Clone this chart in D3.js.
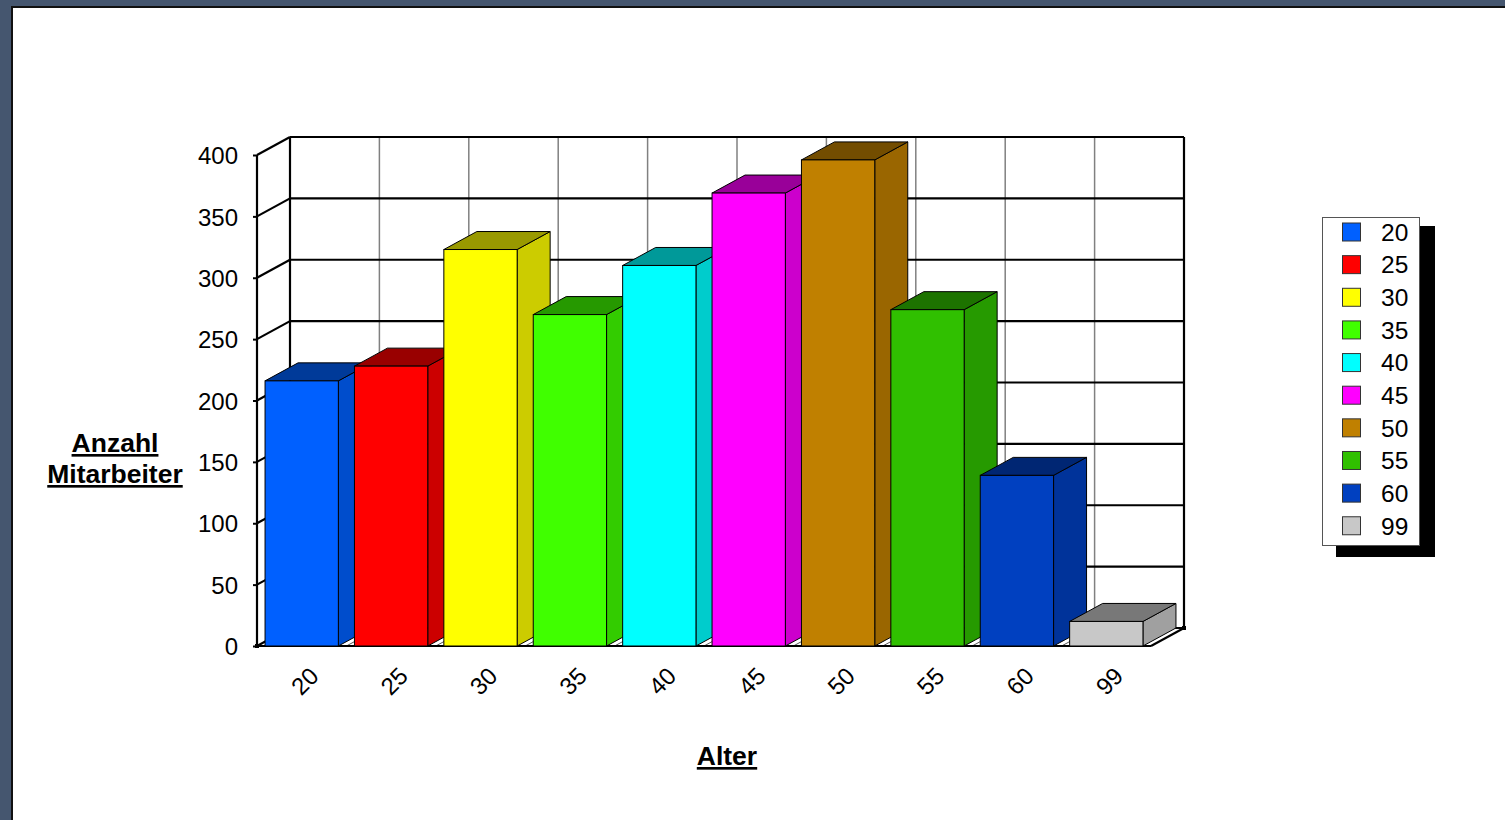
<!DOCTYPE html>
<html>
<head>
<meta charset="utf-8">
<script src="https://cdn.jsdelivr.net/npm/d3@7"></script>
<style>
  html, body { margin: 0; padding: 0; background: #fff; }
  svg { display: block; font-family: "Liberation Sans", Arial, sans-serif; }
</style>
</head>
<body>
<svg id="chart" width="1505" height="820"></svg>
<script>
// ---- data ----
const categories = ["20", "25", "30", "35", "40", "45", "50", "55", "60", "99"];
const values = [216, 228, 323, 270, 310, 369, 396, 274, 139, 20];
const colors = ["#0060FF", "#FF0000", "#FFFF00", "#40FF00", "#00FFFF", "#FF00FF", "#C08000", "#30C000", "#0040C0", "#C8C8C8"];
const yTicks = [0, 50, 100, 150, 200, 250, 300, 350, 400];
const yTitle = ["Anzahl", "Mitarbeiter"];
const xTitle = "Alter";

// ---- layout ----
const W = 1505, H = 820;
const DX = 33, DY = -18; // depth offset
const svg = d3.select("#chart");

// frame
svg.append("rect").attr("x", 0).attr("y", 0).attr("width", W).attr("height", H).attr("fill", "#45566f");
svg.append("rect").attr("x", 11).attr("y", 6).attr("width", W - 11).attr("height", H - 6).attr("fill", "#111");
svg.append("rect").attr("x", 13).attr("y", 8).attr("width", W - 13).attr("height", H - 8).attr("fill", "#fff");

const x = d3.scaleBand().domain(categories).range([257, 1151]).paddingInner(0.18).paddingOuter(0.09);
const y = d3.scaleLinear().domain([0, 400]).range([646, 155]);
const step = x.step();
const x0 = 257, x1 = 1151;

const g = svg.append("g");

// back wall vertical grid lines
for (let i = 1; i < categories.length; i++) {
  const bx = x0 + step * i + DX;
  g.append("line").attr("x1", bx).attr("x2", bx).attr("y1", y(400) + DY).attr("y2", y(0) + DY)
    .attr("stroke", "#808080").attr("stroke-width", 1.5);
}
// floor diagonal lines
for (let i = 1; i < categories.length; i++) {
  const fx = x0 + step * i;
  g.append("line").attr("x1", fx).attr("y1", y(0)).attr("x2", fx + DX).attr("y2", y(0) + DY)
    .attr("stroke", "#555").attr("stroke-width", 1);
}
// back wall horizontal grid + left wall diagonals
yTicks.forEach(t => {
  g.append("line").attr("x1", x0 + DX).attr("x2", x1 + DX).attr("y1", y(t) + DY).attr("y2", y(t) + DY)
    .attr("stroke", "#000").attr("stroke-width", 2.2);
  g.append("line").attr("x1", x0).attr("y1", y(t)).attr("x2", x0 + DX).attr("y2", y(t) + DY)
    .attr("stroke", "#000").attr("stroke-width", 2.2);
});
// wall edges
g.append("line").attr("x1", x0 + DX).attr("x2", x0 + DX).attr("y1", y(400) + DY).attr("y2", y(0) + DY)
  .attr("stroke", "#000").attr("stroke-width", 2.2);
g.append("line").attr("x1", x1 + DX).attr("x2", x1 + DX).attr("y1", y(400) + DY).attr("y2", y(0) + DY)
  .attr("stroke", "#000").attr("stroke-width", 2.2);
g.append("line").attr("x1", x1).attr("y1", y(0)).attr("x2", x1 + DX).attr("y2", y(0) + DY)
  .attr("stroke", "#000").attr("stroke-width", 2.2);
g.append("line").attr("x1", x0).attr("x2", x0).attr("y1", y(400)).attr("y2", y(0))
  .attr("stroke", "#000").attr("stroke-width", 2.2);
g.append("line").attr("x1", x0).attr("x2", x1).attr("y1", y(0)).attr("y2", y(0))
  .attr("stroke", "#000").attr("stroke-width", 2.2);
g.append("rect").attr("x", x1 + DX - 2).attr("y", y(0) + DY - 2).attr("width", 4).attr("height", 4).attr("fill", "#000");
g.append("rect").attr("x", x0 - 2).attr("y", y(0) - 2).attr("width", 4).attr("height", 4).attr("fill", "#000");

// y axis labels
const yAxis = d3.axisLeft(y).tickValues(yTicks).tickSize(4).tickPadding(15).tickFormat(d3.format("d"));
const ya = svg.append("g").attr("transform", `translate(${x0},0)`).call(yAxis);
ya.select(".domain").remove();
ya.selectAll(".tick line").attr("stroke", "#000").attr("stroke-width", 2);
ya.selectAll(".tick text").attr("font-size", 24).attr("fill", "#000")
  .attr("font-family", "'Liberation Sans', Arial, sans-serif").attr("dy", "0.36em");

// bars
const shade = (c, k) => { const r = d3.rgb(c); return d3.rgb(r.r * k, r.g * k, r.b * k).formatHex(); };
const data = categories.map((c, i) => ({ c, v: values[i], col: colors[i] }));
const bw = x.bandwidth();
const bars = g.selectAll("g.bar").data(data).enter().append("g").attr("class", "bar");
bars.append("path") // side
  .attr("d", d => {
    const r = x(d.c) + bw, t = y(d.v), b = y(0);
    return `M${r},${b}L${r},${t}L${r + DX},${t + DY}L${r + DX},${b + DY}Z`;
  })
  .attr("fill", d => shade(d.col, 0.8)).attr("stroke", "#000").attr("stroke-width", 1).attr("stroke-linejoin", "round");
bars.append("path") // top
  .attr("d", d => {
    const l = x(d.c), r = l + bw, t = y(d.v);
    return `M${l},${t}L${l + DX},${t + DY}L${r + DX},${t + DY}L${r},${t}Z`;
  })
  .attr("fill", d => shade(d.col, 0.6)).attr("stroke", "#000").attr("stroke-width", 1).attr("stroke-linejoin", "round");
bars.append("rect") // front
  .attr("x", d => x(d.c)).attr("y", d => y(d.v)).attr("width", bw).attr("height", d => y(0) - y(d.v))
  .attr("fill", d => d.col).attr("stroke", "#000").attr("stroke-width", 1);

// x axis labels
const xAxis = d3.axisBottom(x).tickSize(0).tickPadding(0);
const xa = svg.append("g").attr("transform", `translate(0,${y(0)})`).call(xAxis);
xa.select(".domain").remove();
xa.selectAll(".tick text")
  .attr("font-size", 24).attr("fill", "#000").attr("font-family", "'Liberation Sans', Arial, sans-serif")
  .attr("text-anchor", "middle").attr("dy", null).attr("y", null)
  .attr("dominant-baseline", "central")
  .attr("transform", "translate(3,35) rotate(-45)");

// axis titles
const yt = svg.append("text").attr("x", 115).attr("text-anchor", "middle")
  .attr("font-size", 26.5).attr("font-weight", "bold").attr("fill", "#000")
  .style("text-decoration", "underline");
yt.selectAll("tspan").data(yTitle).enter().append("tspan")
  .attr("x", 115).attr("y", (d, i) => 452 + i * 31).text(d => d);
svg.append("text").attr("x", 727).attr("y", 765).attr("text-anchor", "middle")
  .attr("font-size", 26.5).attr("font-weight", "bold").attr("fill", "#000")
  .style("text-decoration", "underline").text(xTitle);

// legend
const lg = svg.append("g");
lg.append("rect").attr("x", 1336).attr("y", 226).attr("width", 99).attr("height", 331).attr("fill", "#000");
lg.append("rect").attr("x", 1322.5).attr("y", 217.5).attr("width", 97).attr("height", 328)
  .attr("fill", "#fff").attr("stroke", "#555").attr("stroke-width", 1);
const items = lg.selectAll("g.item").data(data).enter().append("g").attr("class", "item")
  .attr("transform", (d, i) => `translate(0,${232 + i * 32.64})`);
items.append("rect").attr("x", 1342.5).attr("y", -9).attr("width", 18).attr("height", 18)
  .attr("fill", d => d.col).attr("stroke", "#333").attr("stroke-width", 1);
items.append("text").attr("x", 1381).attr("y", 0).attr("dy", "0.36em")
  .attr("font-size", 24.5).attr("fill", "#000").text(d => d.c);
</script>
</body>
</html>
